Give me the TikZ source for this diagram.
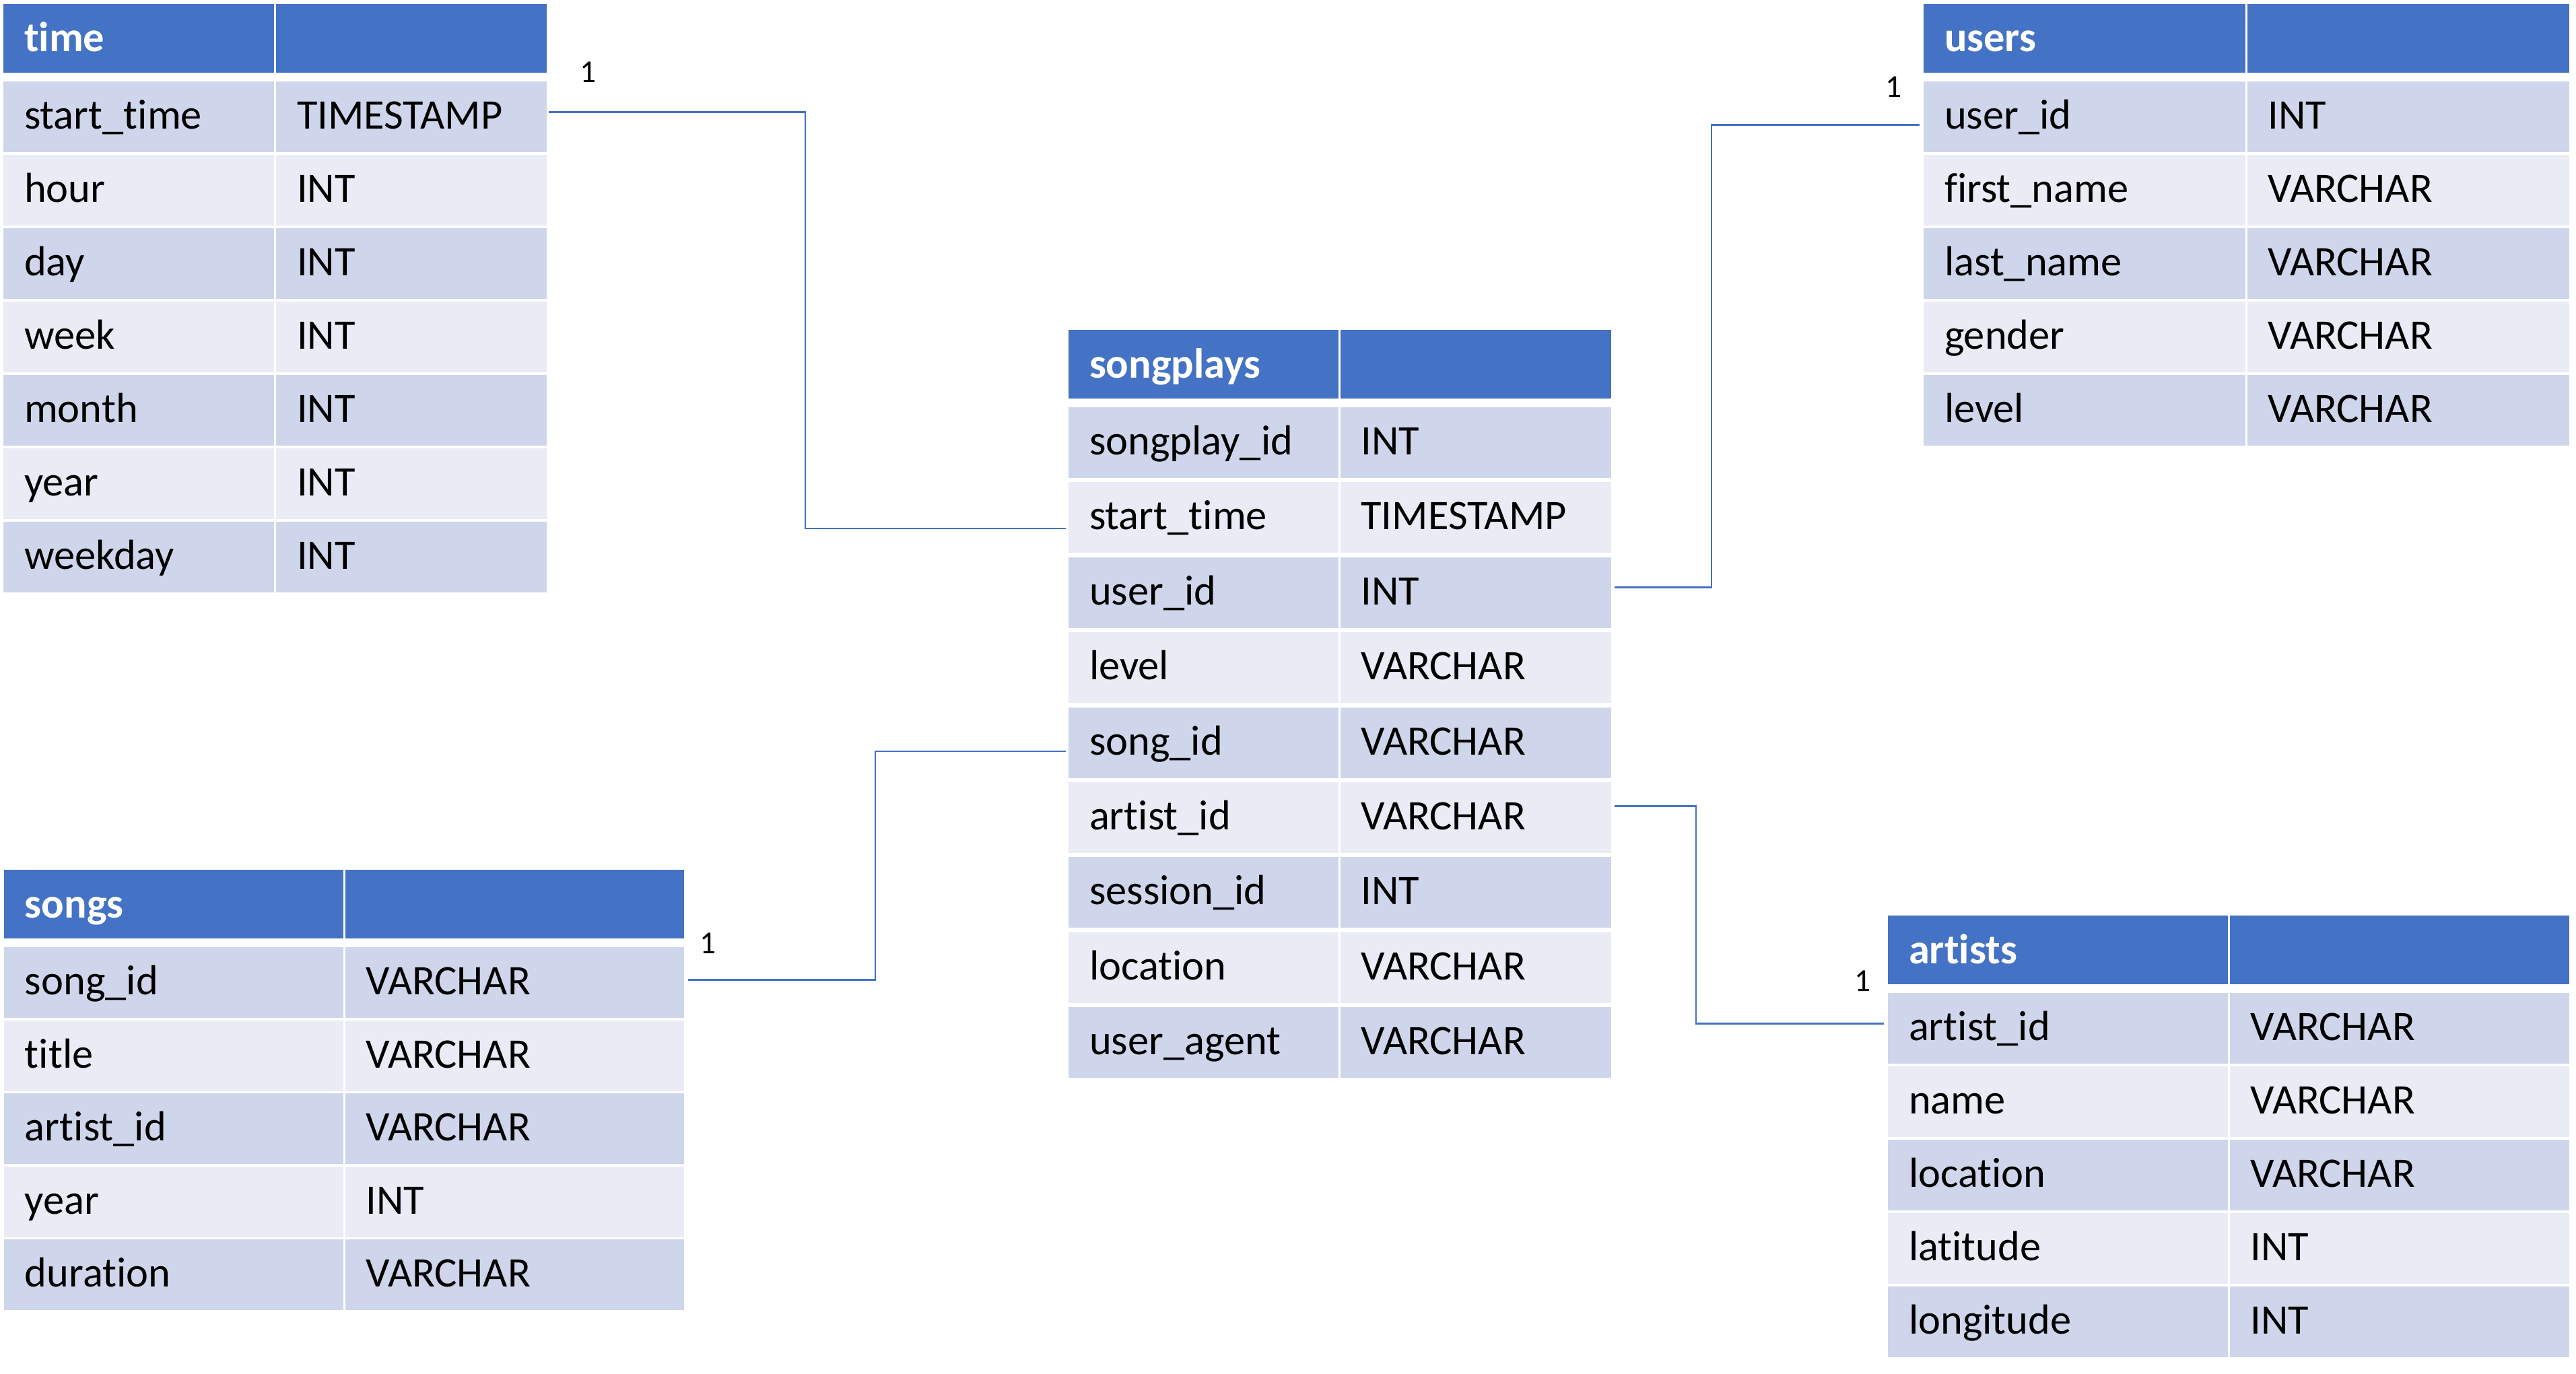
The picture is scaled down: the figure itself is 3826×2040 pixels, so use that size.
\documentclass[tikz,border=0pt]{standalone}
\usepackage{fontspec}
\setmainfont{Carlito}[Ligatures={NoCommon}]
\usetikzlibrary{calc}
\definecolor{hdrblue}{HTML}{4472C4}
\definecolor{rowdark}{HTML}{CFD5EA}
\definecolor{rowlight}{HTML}{E9EBF5}
\tikzset{
  cell/.style={rectangle, inner sep=0pt, anchor=north west, draw=none},
  hdrtext/.style={anchor=base west, inner sep=0pt, text=white, font=\fontsize{12.5}{14}\selectfont\bfseries},
  celltext/.style={anchor=base west, inner sep=0pt, text=black, font=\fontsize{12.5}{14}\selectfont},
  conn/.style={draw=hdrblue, line width=0.5pt},
  card/.style={inner sep=0pt, text=black, font=\fontsize{9.5}{11}\selectfont},
}
% #1 name, #2 left, #3 top, #4 split, #5 right, #6 pitch, #7 title, #8 rows
\newcommand{\dbtable}[8]{%
  \pgfmathsetmacro{\wa}{(#4-1.5-#2)*0.2}%
  \pgfmathsetmacro{\wb}{(#5-#4-1.5)*0.2}%
  \pgfmathsetmacro{\hh}{102*0.2}%
  \pgfmathsetmacro{\rh}{105*0.2}%
  \node[cell, fill=hdrblue, minimum width=\wa pt, minimum height=\hh pt] (#1-h-a) at (#2,#3) {};
  \node[cell, fill=hdrblue, minimum width=\wb pt, minimum height=\hh pt] (#1-h-b) at (#4+1.5,#3) {};
  \node[hdrtext] (#1-h-t) at ($(#1-h-a.west)+(31,20)$) {#7};
  \foreach \f/\t [count=\k] in {#8} {
    \pgfmathsetmacro{\yy}{#3+115+(\k-1)*#6}
    \pgfmathtruncatemacro{\oddrow}{mod(\k,2)}
    \ifnum\oddrow=1 \def\cellcol{rowdark}\else\def\cellcol{rowlight}\fi
    \node[cell, fill=\cellcol, minimum width=\wa pt, minimum height=\rh pt] (#1-\k-a) at (#2,\yy) {};
    \node[cell, fill=\cellcol, minimum width=\wb pt, minimum height=\rh pt] (#1-\k-b) at (#4+1.5,\yy) {};
    \node[celltext] (#1-\k-ft) at ($(#1-\k-a.west)+(31,18)$) {\f};
    \node[celltext] (#1-\k-tt) at ($(#1-\k-b.west)+(31,18)$) {\t};
  }
}
\begin{document}
\begin{tikzpicture}[x=0.2pt, y=-0.2pt]
  \useasboundingbox (0,0) rectangle (3826,2040);
  \dbtable{time}{4}{5}{407.5}{811}{109}{time}{start\_time/TIMESTAMP, hour/INT, day/INT, week/INT, month/INT, year/INT, weekday/INT}
  \dbtable{sp}{1586}{489}{1988}{2392}{111.4}{songplays}{songplay\_id/INT, start\_time/TIMESTAMP, user\_id/INT, level/VARCHAR, song\_id/VARCHAR, artist\_id/VARCHAR, session\_id/INT, location/VARCHAR, user\_agent/VARCHAR}
  \dbtable{users}{2856}{5}{3335}{3815}{109}{users}{user\_id/INT, first\_name/VARCHAR, last\_name/VARCHAR, gender/VARCHAR, level/VARCHAR}
  \dbtable{songs}{5}{1291}{510}{1015}{108.5}{songs}{song\_id/VARCHAR, title/VARCHAR, artist\_id/VARCHAR, year/INT, duration/VARCHAR}
  \dbtable{artists}{2803}{1359}{3309}{3815}{109}{artists}{artist\_id/VARCHAR, name/VARCHAR, location/VARCHAR, latitude/INT, longitude/INT}

  % connectors
  \coordinate (c1x) at (1196,0);
  \coordinate (c2x) at (2542,0);
  \coordinate (c3x) at (1300,0);
  \coordinate (c4x) at (2519,0);
  \draw[conn] ($(time-1-b.east)+(2,-7)$) coordinate (c1s) -- (c1s -| c1x) |- ($(sp-2-a.west)+(-3,16)$);
  \draw[conn] ($(sp-3-b.east)+(4,-8)$) coordinate (c2s) -- (c2s -| c2x) |- ($(users-1-a.west)+(-5,12)$);
  \draw[conn] ($(songs-1-b.east)+(5,-4)$) coordinate (c3s) -- (c3s -| c3x) |- ($(sp-5-a.west)+(-3,13)$);
  \draw[conn] ($(sp-6-b.east)+(4,-17)$) coordinate (c4s) -- (c4s -| c4x) |- ($(artists-1-a.west)+(-5,-7)$);

  % cardinality labels
  \node[card] (l1) at (874,107) {1};
  \node[card] (l2) at (2813,129) {1};
  \node[card] (l3) at (1052,1401) {1};
  \node[card] (l4) at (2767,1457) {1};
\end{tikzpicture}
\end{document}
